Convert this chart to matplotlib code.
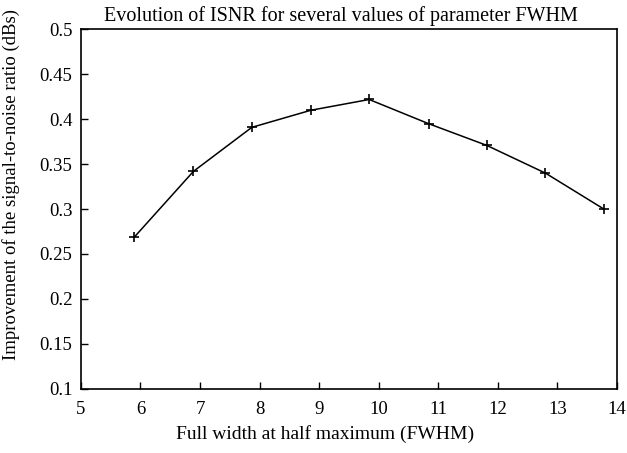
import matplotlib
matplotlib.use('Agg')
import matplotlib.pyplot as plt

# FWHM values and ISNR improvement (dBs)
fwhm = [5.90, 6.89, 7.87, 8.86, 9.84, 10.84, 11.81, 12.80, 13.78]
isnr = [0.269, 0.342, 0.391, 0.410, 0.422, 0.395, 0.371, 0.340, 0.300]

x_ticks = [5, 6, 7, 8, 9, 10, 11, 12, 13, 14]
y_ticks = [0.1, 0.15, 0.2, 0.25, 0.3, 0.35, 0.4, 0.45, 0.5]
y_labels = ['0.1', '0.15', '0.2', '0.25', '0.3', '0.35', '0.4', '0.45', '0.5']

plt.rcParams['font.family'] = ['Liberation Serif', 'DejaVu Serif']
plt.rcParams['font.size'] = 13.5

fig = plt.figure(figsize=(6.27, 4.53), dpi=100)
ax = fig.add_axes([0.129, 0.142, 0.855, 0.793])

ax.plot(fwhm, isnr, color='black', linewidth=1.1, marker='+',
        markersize=7, markeredgewidth=1.2)

ax.set_xlim(5, 14)
ax.set_ylim(0.1, 0.5)
ax.set_xticks(x_ticks)
ax.set_yticks(y_ticks)
ax.set_yticklabels(y_labels)
ax.tick_params(direction='in', length=5, width=1, pad=6)
ax.tick_params(axis='x', pad=9)

for s in ax.spines.values():
    s.set_linewidth(1.2)

ax.set_title('Evolution of ISNR for several values of parameter FWHM',
             fontsize=14.5, x=0.485, pad=6)
ax.set_xlabel('Full width at half maximum (FWHM)', fontsize=14, labelpad=6)
ax.xaxis.set_label_coords(0.455, -0.1)
ax.set_ylabel('Improvement of the signal-to-noise ratio (dBs)', labelpad=6)
ax.yaxis.set_label_coords(-0.113, 0.567)

fig.savefig('out.png', dpi=100)
plt.close()
